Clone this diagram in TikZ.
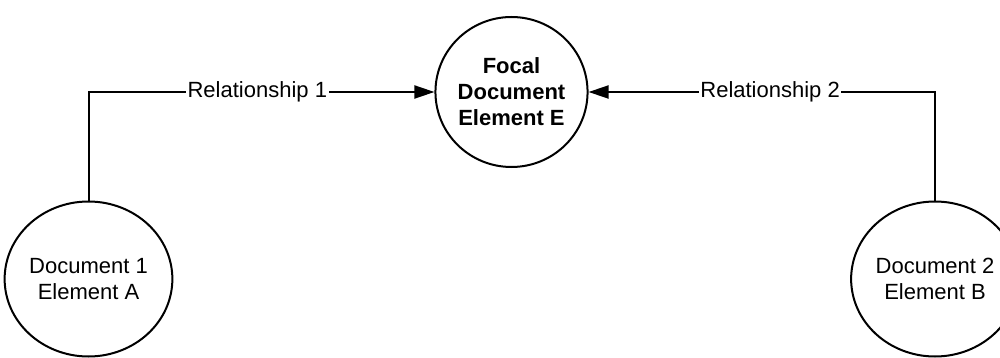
\documentclass[tikz,border=0pt]{standalone}
\usepackage{fontspec}
\setmainfont{Liberation Sans}
\usetikzlibrary{shapes.geometric,arrows.meta}
\begin{document}
\begin{tikzpicture}[x=1pt,y=-1pt,
  elem/.style={draw, ellipse, line width=2pt, inner sep=0pt, align=center,
    font=\fontsize{22pt}{26pt}\selectfont},
  conn/.style={line width=2pt, -{Triangle[length=20pt,width=13pt]}},
  rel/.style={fill=white, inner sep=1.5pt, font=\fontsize{22pt}{26pt}\selectfont}]
\useasboundingbox (0,0) rectangle (1000,358);
\node[elem, minimum width=150pt, minimum height=150pt, font=\fontsize{22pt}{26pt}\selectfont\bfseries] (E) at (511.5,92) {Focal\\Document\\Element E};
\node[elem, minimum width=150pt, minimum height=155pt] (A) at (88.5,279) {Document 1\\Element A};
\node[elem, minimum width=153pt, minimum height=155pt] (B) at (935,279) {Document 2\\Element B};
\draw[conn] (A.north) |- node[rel, pos=0.744] (r1) {Relationship 1} (E.west);
\draw[conn] (B.north) |- node[rel, pos=0.738] (r2) {Relationship 2} (E.east);
\end{tikzpicture}
\end{document}
